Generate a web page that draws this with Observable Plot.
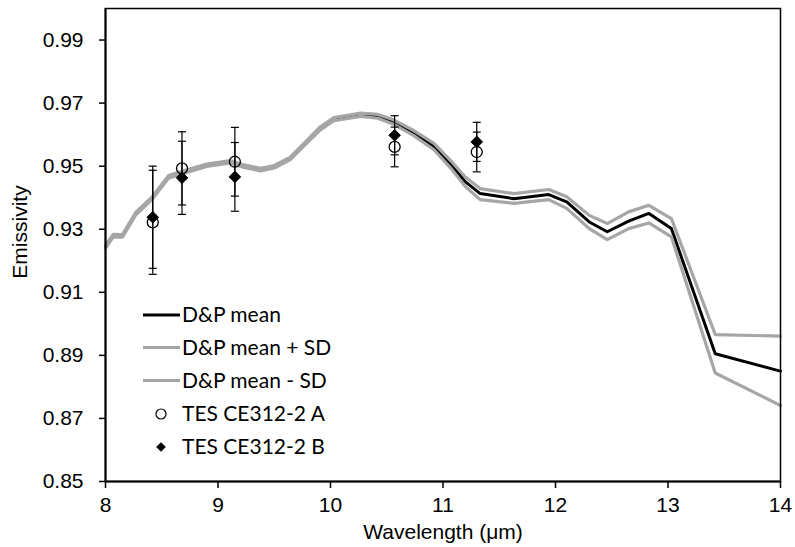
<!DOCTYPE html>
<html><head><meta charset="utf-8">
<script src="https://cdn.jsdelivr.net/npm/d3@7"></script>
<script src="https://cdn.jsdelivr.net/npm/@observablehq/plot@0.6"></script>
<style>
body{margin:0;background:#fff}
#wrap{position:relative;width:795px;height:547px}
#wrap svg{display:block}
#legend{position:absolute;left:0;top:0;pointer-events:none}
</style>
</head><body><div id="wrap"></div>
<script>
// D&P spectra (wavelength in µm)
const wavelength = [8.00, 8.07, 8.15, 8.27, 8.41, 8.56, 8.70, 8.90, 9.11, 9.23, 9.38, 9.50, 9.64, 9.76, 9.91, 10.03, 10.27, 10.42, 10.56, 10.74, 10.92, 11.07, 11.20, 11.33, 11.63, 11.94, 12.10, 12.30, 12.46, 12.65, 12.83, 13.03, 13.42, 14.00];
const dpMean    = [0.9244, 0.9280, 0.9279, 0.9350, 0.9397, 0.9466, 0.9482, 0.9503, 0.9514, 0.9500, 0.9489, 0.9498, 0.9524, 0.9567, 0.9620, 0.9649, 0.9663, 0.9658, 0.9640, 0.9605, 0.9562, 0.9505, 0.9450, 0.9413, 0.9397, 0.9410, 0.9387, 0.9323, 0.9292, 0.9326, 0.9350, 0.9302, 0.8905, 0.8850];
const dpPlusSD  = [0.9248, 0.9284, 0.9283, 0.9354, 0.9401, 0.9470, 0.9486, 0.9507, 0.9518, 0.9504, 0.9493, 0.9502, 0.9528, 0.9571, 0.9625, 0.9654, 0.9668, 0.9664, 0.9647, 0.9613, 0.9572, 0.9517, 0.9465, 0.9429, 0.9413, 0.9426, 0.9403, 0.9344, 0.9318, 0.9355, 0.9376, 0.9334, 0.8966, 0.8961];
const dpMinusSD = [0.9240, 0.9276, 0.9275, 0.9346, 0.9393, 0.9462, 0.9478, 0.9499, 0.9510, 0.9496, 0.9485, 0.9494, 0.9520, 0.9563, 0.9615, 0.9644, 0.9658, 0.9652, 0.9633, 0.9597, 0.9552, 0.9493, 0.9435, 0.9394, 0.9382, 0.9394, 0.9366, 0.9302, 0.9267, 0.9302, 0.9320, 0.9276, 0.8844, 0.8741];

// TES CE312-2 measurements
const tesWavelength = [8.42, 8.68, 9.15, 10.57, 11.30];
const tesA    = [0.9322, 0.9493, 0.9514, 0.9561, 0.9545];
const tesAErr = [0.0165, 0.0116, 0.0109, 0.0063, 0.0063];
const tesB    = [0.9338, 0.9463, 0.9466, 0.9598, 0.9577];
const tesBErr = [0.0162, 0.0116, 0.0109, 0.0062, 0.0062];

const xTicks = [8, 9, 10, 11, 12, 13, 14];
const yTicks = [0.85, 0.87, 0.89, 0.91, 0.93, 0.95, 0.97, 0.99];
const xLabel = "Wavelength (μm)";
const yLabel = "Emissivity";
const legendLabels = ["D&P mean", "D&P mean + SD", "D&P mean - SD", "TES CE312-2 A", "TES CE312-2 B"];

const GRAY = "#a6a6a6";
const FONT = "Liberation Sans";
const series = ys => wavelength.map((w, i) => ({w, e: ys[i]}));
const tes = (vals, errs) => tesWavelength.map((w, i) => ({w, e: vals[i], lo: vals[i] - errs[i], hi: vals[i] + errs[i]}));
const rowsA = tes(tesA, tesAErr);
const rowsB = tes(tesB, tesBErr);

const capSymbol = {draw(ctx, size) { const r = Math.sqrt(size / Math.PI); ctx.moveTo(-r, 0); ctx.lineTo(r, 0); }};
const errMarks = rows => [
  Plot.ruleX(rows, {x: "w", y1: "lo", y2: "hi", stroke: "black", strokeWidth: 1.2}),
  Plot.dot(rows, {x: "w", y: "lo", symbol: capSymbol, r: 4, stroke: "black", fill: "none", strokeWidth: 1.2}),
  Plot.dot(rows, {x: "w", y: "hi", symbol: capSymbol, r: 4, stroke: "black", fill: "none", strokeWidth: 1.2})
];

const chart = Plot.plot({
  width: 795, height: 547,
  marginLeft: 105, marginRight: 15, marginTop: 8, marginBottom: 66,
  style: {fontFamily: FONT, fontSize: "21px", color: "black", background: "white"},
  x: {domain: [8, 14]},
  y: {domain: [0.85, 1.0]},
  marks: [
    Plot.line(series(dpMean), {x: "w", y: "e", stroke: "black", strokeWidth: 3, strokeLinejoin: "round"}),
    Plot.line(series(dpPlusSD), {x: "w", y: "e", stroke: GRAY, strokeWidth: 3.2, strokeLinejoin: "round"}),
    Plot.line(series(dpMinusSD), {x: "w", y: "e", stroke: GRAY, strokeWidth: 3.2, strokeLinejoin: "round"}),
    ...errMarks(rowsA),
    Plot.dot(rowsA, {x: "w", y: "e", r: 5.5, stroke: "black", fill: "none", strokeWidth: 1.3}),
    ...errMarks(rowsB),
    Plot.dot(rowsB, {x: "w", y: "e", symbol: "diamond2", r: 5.2, stroke: "black", fill: "black", strokeWidth: 1}),
    Plot.frame({stroke: "black", strokeWidth: 1.5}),
    Plot.ruleX([8], {stroke: "black", strokeWidth: 2}),
    Plot.ruleY([0.85], {stroke: "black", strokeWidth: 2}),
    Plot.axisY({ticks: yTicks, tickFormat: d3.format(".2f"), tickSize: 6, tickPadding: 16, strokeWidth: 1.5, fontSize: 21, fontFamily: FONT, label: null}),
    Plot.axisX({ticks: xTicks, tickFormat: d3.format("d"), tickSize: 7, tickPadding: 9, strokeWidth: 1.5, fontSize: 21, fontFamily: FONT, label: null}),
    Plot.text([xLabel], {frameAnchor: "bottom", textAnchor: "middle", dy: 57, lineAnchor: "bottom", fontSize: 21, fontFamily: FONT, fill: "black"}),
    Plot.text([yLabel], {frameAnchor: "left", textAnchor: "middle", dx: -85, dy: -13, rotate: -90, lineAnchor: "middle", fontSize: 21, fontFamily: FONT, fill: "black"})
  ]
});
const wrap = document.getElementById("wrap");
wrap.appendChild(chart);

// Legend inside the plot area
const lg = d3.select(wrap).append("svg").attr("id", "legend").attr("width", 795).attr("height", 547);
const rowY = [315, 347.5, 380.5, 414, 447];
const styles = [
  {type: "line", stroke: "black"},
  {type: "line", stroke: GRAY},
  {type: "line", stroke: GRAY},
  {type: "circle"},
  {type: "diamond"}
];
legendLabels.forEach((lab, i) => {
  const g = lg.append("g").attr("transform", `translate(0,${rowY[i]})`);
  const s = styles[i];
  if (s.type === "line") {
    g.append("line").attr("x1", 143).attr("x2", 180).attr("y1", 0).attr("y2", 0).attr("stroke", s.stroke).attr("stroke-width", 3);
  } else if (s.type === "circle") {
    g.append("circle").attr("cx", 161).attr("cy", 0).attr("r", 5).attr("fill", "none").attr("stroke", "black").attr("stroke-width", 1.2);
  } else {
    g.append("path").attr("d", d3.symbol(d3.symbolDiamond2, 60)()).attr("transform", "translate(161,0)").attr("fill", "black");
  }
  g.append("text").attr("x", 182).attr("y", 0).attr("dy", "0.35em")
    .attr("font-family", "Lato, 'Open Sans', sans-serif").attr("font-size", 21).attr("fill", "black").text(lab);
});
</script>
</body></html>
